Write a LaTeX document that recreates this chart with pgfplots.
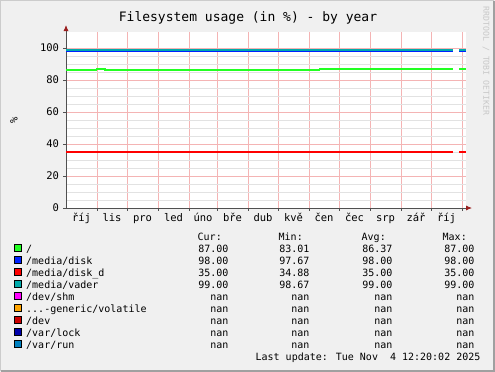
\documentclass[border=0pt]{standalone}
\usepackage{pgfplots}
\pgfplotsset{compat=1.18}
\usepackage{fontspec}
\setmainfont{DejaVu Sans Mono}
\usetikzlibrary{arrows.meta}
\definecolor{bg}{HTML}{F0F0F0}
\definecolor{gridred}{HTML}{F4B4B4}
\definecolor{gridgray}{HTML}{E2E2E2}
\definecolor{axisgray}{HTML}{505050}
\definecolor{arrowred}{HTML}{9A1E1E}
\definecolor{cgreen}{HTML}{22FF22}
\definecolor{cblue}{HTML}{0022FF}
\definecolor{cred}{HTML}{FF0000}
\definecolor{cteal}{HTML}{00AAAA}
\definecolor{cmag}{HTML}{FF00FF}
\definecolor{corange}{HTML}{FFA500}
\definecolor{cdred}{HTML}{CC0000}
\definecolor{cnavy}{HTML}{0000AA}
\definecolor{csteel}{HTML}{0080C0}
\newcommand{\lf}{\fontsize{10bp}{12bp}\selectfont}
\newcommand{\legrow}[7]{%
\begin{scope}[yshift={-12bp*#1}]
\filldraw[fill=#2,draw=black,line width=0.7bp] (14.5bp,-244.5bp) rectangle (21.5bp,-251.5bp);
\node[anchor=base west,inner sep=0,font=\lf] at (26bp,-252bp) {#3};
\node[anchor=base east,inner sep=0,font=\lf] at (228.6bp,-252bp) {#4};
\node[anchor=base east,inner sep=0,font=\lf] at (309.6bp,-252bp) {#5};
\node[anchor=base east,inner sep=0,font=\lf] at (392.6bp,-252bp) {#6};
\node[anchor=base east,inner sep=0,font=\lf] at (474.6bp,-252bp) {#7};
\end{scope}}
\begin{document}
\begin{tikzpicture}
\fill[bg] (0,0) rectangle (495bp,-372bp);
\path[use as bounding box] (0,0) rectangle (495bp,-372bp);
\draw[color={rgb,255:red,204;green,204;blue,204},line width=1bp] (0.5bp,-371bp) -- (0.5bp,-0.5bp) -- (494bp,-0.5bp);
\draw[color={rgb,255:red,160;green,160;blue,160},line width=2bp] (1bp,-371bp) -- (494bp,-371bp) -- (494bp,-1bp);
\node[anchor=base,inner sep=0,font=\fontsize{13bp}{15bp}\selectfont] at (248bp,-21bp) {Filesystem usage (in \%) - by year};
\node[rotate=90,inner sep=0,font=\fontsize{10.5bp}{12bp}\selectfont] at (14bp,-120bp) {\%};
\node[rotate=-90,inner sep=0,text={rgb,255:red,200;green,200;blue,200},font=\fontsize{8.2bp}{10bp}\selectfont] at (486bp,-61bp) {RRDTOOL / TOBI OETIKER};
\begin{axis}[
  at={(66bp,-208bp)}, anchor=south west,
  scale only axis, width=400bp, height=176bp,
  xmin=0, xmax=400, ymin=0, ymax=110,
  axis background/.style={fill=white},
  axis x line=bottom, axis y line=left,
  x axis line style={draw=axisgray, line width=0.8bp, shorten >=-6bp, -{Latex[length=6bp,width=5bp,color=arrowred]}},
  y axis line style={draw=axisgray, line width=0.8bp, shorten >=-7bp, -{Latex[length=6bp,width=5bp,color=arrowred]}},
  tick align=outside, major tick length=2.5bp, minor tick length=0pt,
  tick style={draw=axisgray, line width=0.6bp},
  ytick={0,20,40,60,80,100}, minor y tick num=3,
  ymajorgrids, yminorgrids, 
  xtick={31,61,92,123,151,182,212,243,273,304,335,365,396},
  xticklabels={,,,,,,,,,,,,,}, xmajorgrids,
  extra x ticks={15.5,46,76.5,107.5,137,166.5,197,227.5,258,288.5,319.5,350,380.5},
  extra x tick labels={říj,lis,pro,led,úno,bře,dub,kvě,čen,čec,srp,zář,říj},
  extra x tick style={grid=none, major tick length=0pt},
  major grid style={draw=gridred, line width=0.6bp},
  minor grid style={draw=gridgray, line width=0.6bp},
  tick label style={font=\fontsize{10.5bp}{12bp}\selectfont},
  /pgf/number format/assume math mode=true,
  yticklabel style={anchor=east, xshift=-1bp},
  xticklabel style={anchor=base, yshift=-13bp},
  unbounded coords=jump,
  every axis plot/.append style={line width=1.9bp, const plot, mark=none},
]
\addplot[cgreen] coordinates {(0,86) (30.5,87) (39,86) (253.5,87) (386.7,87) (386.7,nan) (393.3,87) (399.5,87)};
\addplot[cblue] coordinates {(0,98) (386.7,98) (386.7,nan) (393.3,98) (399.5,98)};
\addplot[cred] coordinates {(0,35) (386.7,35) (386.7,nan) (393.3,35) (399.5,35)};
\addplot[cteal] coordinates {(0,99) (386.7,99) (386.7,nan) (393.3,99) (399.5,99)};
\end{axis}
\node[anchor=base west,inner sep=0,font=\lf] at (197.5bp,-240bp) {Cur:};
\node[anchor=base west,inner sep=0,font=\lf] at (278.5bp,-240bp) {Min:};
\node[anchor=base west,inner sep=0,font=\lf] at (361.5bp,-240bp) {Avg:};
\node[anchor=base west,inner sep=0,font=\lf] at (442.5bp,-240bp) {Max:};
\legrow{0}{cgreen}{/}{87.00}{83.01}{86.37}{87.00}
\legrow{1}{cblue}{/media/disk}{98.00}{97.67}{98.00}{98.00}
\legrow{2}{cred}{/media/disk\_d}{35.00}{34.88}{35.00}{35.00}
\legrow{3}{cteal}{/media/vader}{99.00}{98.67}{99.00}{99.00}
\legrow{4}{cmag}{/dev/shm}{nan}{nan}{nan}{nan}
\legrow{5}{corange}{...-generic/volatile}{nan}{nan}{nan}{nan}
\legrow{6}{cdred}{/dev}{nan}{nan}{nan}{nan}
\legrow{7}{cnavy}{/var/lock}{nan}{nan}{nan}{nan}
\legrow{8}{csteel}{/var/run}{nan}{nan}{nan}{nan}
\node[anchor=base east,inner sep=0,font=\lf] at (480.6bp,-360bp) {Last update: Tue Nov\ \ 4 12:20:02 2025};
\end{tikzpicture}
\end{document}
